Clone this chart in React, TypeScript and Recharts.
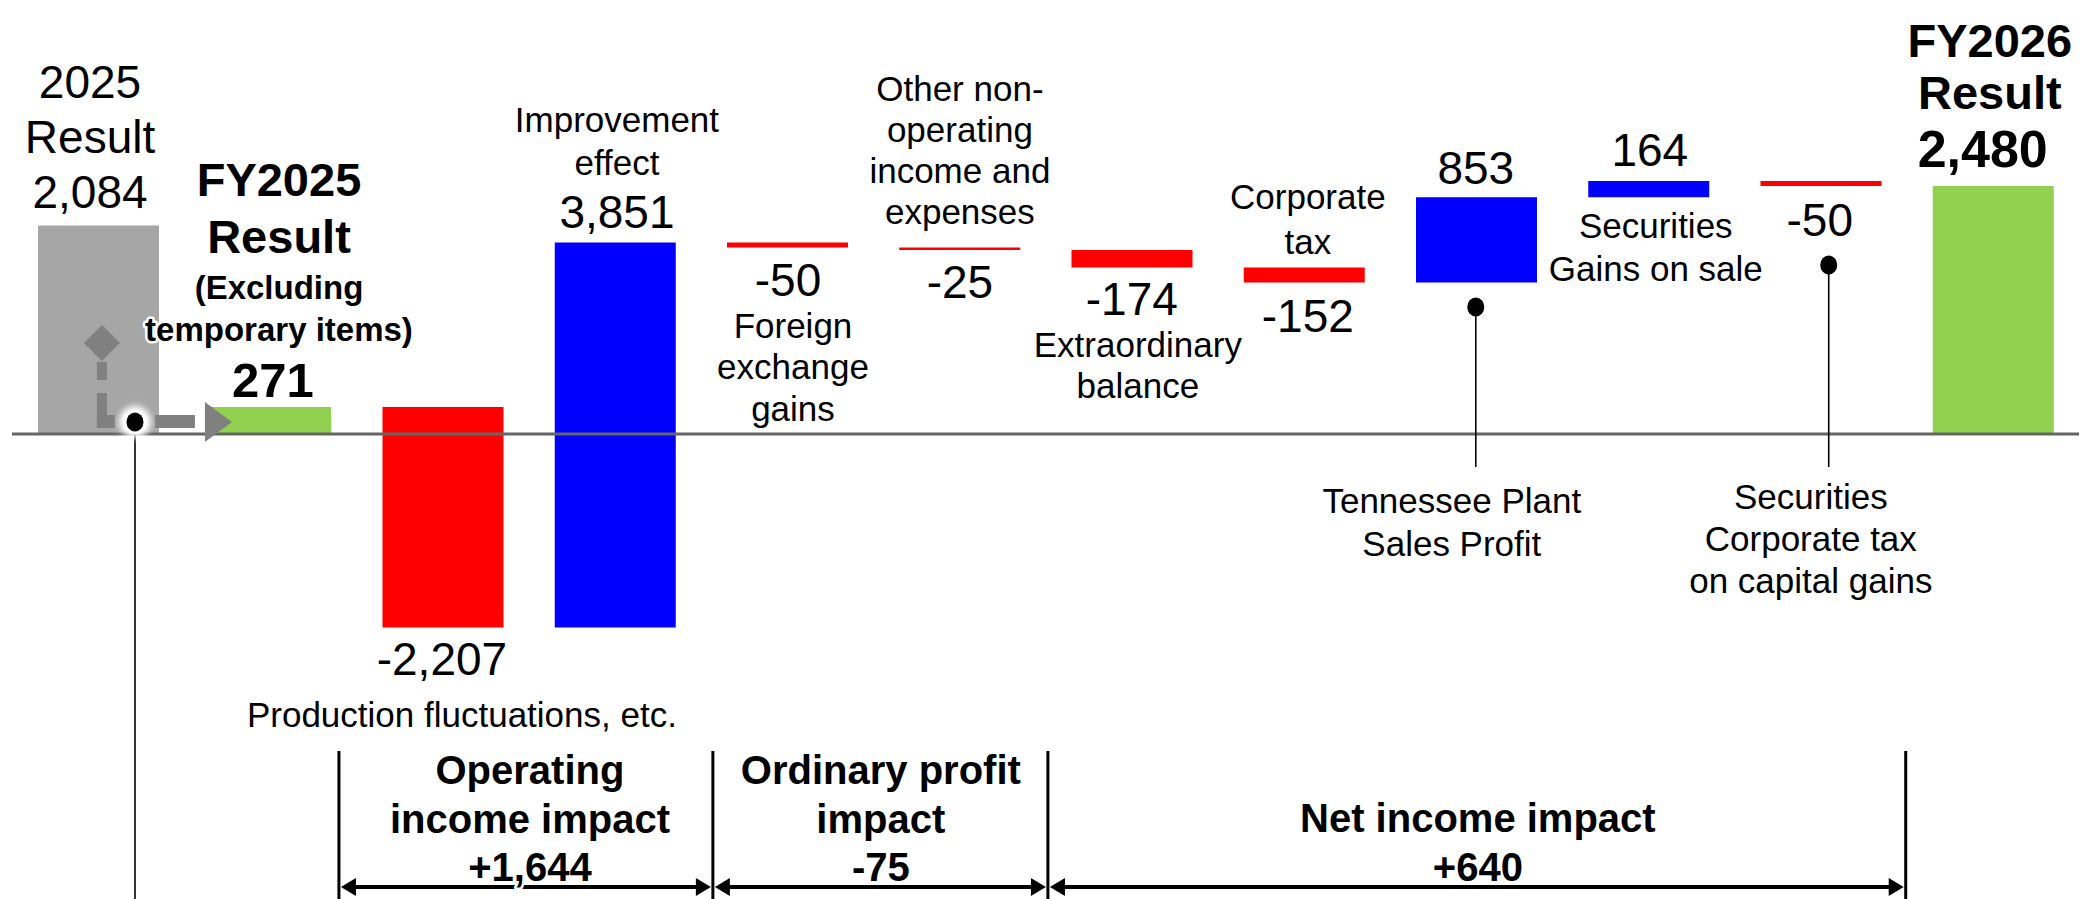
import React from 'react';
import { ComposedChart, Bar, Cell, XAxis, YAxis, ReferenceLine, ReferenceDot } from 'recharts';

// ---- data ----
const categories = [
  '2025 Result',
  'FY2025 Result (Excluding temporary items)',
  'Production fluctuations, etc.',
  'Improvement effect',
  'Foreign exchange gains',
  'Other non-operating income and expenses',
  'Extraordinary balance',
  'Corporate tax',
  'Tennessee Plant Sales Profit',
  'Securities Gains on sale',
  'Securities Corporate tax on capital gains',
  'FY2026 Result',
];
const values = [2084, 271, -2207, 3851, -50, -25, -174, -152, 853, 164, -50, 2480];
const barTypes = ['reference', 'start', 'delta', 'delta', 'delta', 'delta', 'delta', 'delta', 'delta', 'delta', 'delta', 'end'];
const valueLabels = ['2,084', '271', '-2,207', '3,851', '-50', '-25', '-174', '-152', '853', '164', '-50', '2,480'];
const impactNames = [['Operating', 'income impact'], ['Ordinary profit', 'impact'], ['Net income impact']];
const impactValues = ['+1,644', '-75', '+640'];

let running = 0;
const data = categories.map((name, i) => {
  const v = values[i];
  const t = barTypes[i];
  let range: number[];
  if (t === 'reference' || t === 'end') {
    range = [0, v];
  } else if (t === 'start') {
    range = [0, v];
    running = v;
  } else {
    const next = running + v;
    range = [Math.min(running, next), Math.max(running, next)];
    running = next;
  }
  return { name, idx: i, range, value: v, type: t };
});

const fillFor = (d: any) => {
  if (d.type === 'reference') return '#A6A6A6';
  if (d.type === 'start' || d.type === 'end') return '#92D050';
  return d.value < 0 ? '#FF0000' : '#0000FF';
};

const FONT = "'Liberation Sans', Arial, Helvetica, sans-serif";

type Block = { x: number; y: number; lines: string[]; size: number; bold?: boolean; gap?: number };

const annotations: Block[] = [
  { x: -0.047, y: 3520, lines: ['2025', 'Result', valueLabels[0]], size: 46, gap: 55 },
  { x: 1.05, y: 2550, lines: ['FY2025', 'Result'], size: 47, bold: true, gap: 57 },
  { x: 1.05, y: 1470, lines: ['(Excluding', 'temporary items)'], size: 33, bold: true, gap: 42 },
  { x: 1.015, y: 540, lines: [valueLabels[1]], size: 49, bold: true },
  { x: 3.012, y: 3150, lines: ['Improvement', 'effect'], size: 35, gap: 43 },
  { x: 3.012, y: 2220, lines: [valueLabels[3]], size: 46 },
  { x: 4.005, y: 1540, lines: [valueLabels[4]], size: 46 },
  { x: 4.034, y: 1090, lines: ['Foreign', 'exchange', 'gains'], size: 35, gap: 41.5 },
  { x: 5.003, y: 3460, lines: ['Other non-', 'operating', 'income and', 'expenses'], size: 35, gap: 41.3 },
  { x: 5.003, y: 1520, lines: [valueLabels[5]], size: 46 },
  { x: 6.001, y: 1350, lines: [valueLabels[6]], size: 46 },
  { x: 6.036, y: 900, lines: ['Extraordinary', 'balance'], size: 35, gap: 41 },
  { x: 7.023, y: 2380, lines: ['Corporate', 'tax'], size: 35, gap: 45 },
  { x: 7.023, y: 1180, lines: [valueLabels[7]], size: 46 },
  { x: 7.998, y: 2660, lines: [valueLabels[8]], size: 46 },
  { x: 7.859, y: -660, lines: ['Tennessee Plant', 'Sales Profit'], size: 35, gap: 43 },
  { x: 9.008, y: 2840, lines: [valueLabels[9]], size: 46 },
  { x: 9.043, y: 2090, lines: ['Securities', 'Gains on sale'], size: 35, gap: 43 },
  { x: 9.995, y: 2140, lines: [valueLabels[10]], size: 46 },
  { x: 9.943, y: -620, lines: ['Securities', 'Corporate tax', 'on capital gains'], size: 35, gap: 42 },
  { x: 10.982, y: 3940, lines: ['FY2026', 'Result'], size: 47, bold: true, gap: 52 },
  { x: 10.941, y: 2850, lines: [valueLabels[11]], size: 52, bold: true },
  { x: 1.996, y: -2250, lines: [valueLabels[2]], size: 46 },
  { x: 2.112, y: -2800, lines: ['Production fluctuations, etc.'], size: 35 },
  { x: 2.507, y: -3360, lines: [...impactNames[0], impactValues[0]], size: 40, bold: true, gap: 48.5 },
  { x: 4.544, y: -3360, lines: [...impactNames[1], impactValues[1]], size: 40, bold: true, gap: 48.5 },
  { x: 8.01, y: -3840, lines: [...impactNames[2], impactValues[2]], size: 40, bold: true, gap: 49 },
];

const bracketXs = [1.398, 3.569, 5.514, 10.494];
const BRACKET_TOP = -3170;
const BRACKET_BOTTOM = -4650;
const ARROW_Y = -4530;

const connectors = [
  { x: 0.214, y: 120, bottom: -4650, glow: true },
  { x: 7.998, y: 1270, bottom: -330, glow: false },
  { x: 10.047, y: 1690, bottom: -330, glow: false },
];

const TextBlock = ({ cx, cy, b }: { cx: number; cy: number; b: Block }) => (
  <g>
    {b.lines.map((l, k) => (
      <text
        key={k}
        x={cx}
        y={cy + k * (b.gap || 0)}
        textAnchor="middle"
        dominantBaseline="central"
        fontSize={b.size}
        fontWeight={b.bold ? 700 : 400}
        fontFamily={FONT}
        fill="#000"
        stroke="#fff"
        strokeWidth={5}
        strokeLinejoin="round"
        paintOrder="stroke"
      >
        {l}
      </text>
    ))}
  </g>
);

const DoubleArrow = (p: any) => {
  const { x1, y1, x2 } = p;
  const a = Math.min(x1, x2);
  const b = Math.max(x1, x2);
  return (
    <g>
      <line x1={a + 10} y1={y1} x2={b - 10} y2={y1} stroke="#000" strokeWidth={4} />
      <polygon points={`${a + 2},${y1} ${a + 17},${y1 - 9} ${a + 17},${y1 + 9}`} fill="#000" />
      <polygon points={`${b - 2},${y1} ${b - 17},${y1 - 9} ${b - 17},${y1 + 9}`} fill="#000" />
    </g>
  );
};

const GrayArrow = ({ cx, cy }: { cx: number; cy: number }) => (
  <g fill="#808080">
    <rect x={cx - 5} y={cy - 28} width={10} height={34} />
    <rect x={cx - 5} y={cy - 6} width={18} height={13} />
    <rect x={cx - 5} y={cy - 59} width={10} height={18} />
    <polygon points={`${cx},${cy - 96} ${cx + 18},${cy - 78} ${cx},${cy - 60} ${cx - 18},${cy - 78}`} />
    <rect x={cx + 53} y={cy - 6} width={40} height={13} />
    <polygon points={`${cx + 103},${cy - 19} ${cx + 130},${cy + 1} ${cx + 103},${cy + 21}`} />
  </g>
);

const Dot = ({ cx, cy, glow }: { cx: number; cy: number; glow: boolean }) => (
  <g>
    {glow && (
      <>
        <defs>
          <filter id="glowBlur" x="-1" y="-1" width="3" height="3">
            <feGaussianBlur stdDeviation="3" />
          </filter>
        </defs>
        <circle cx={cx} cy={cy} r={16} fill="#fff" filter="url(#glowBlur)" />
        <circle cx={cx} cy={cy} r={12} fill="#fff" />
      </>
    )}
    <ellipse cx={cx} cy={cy} rx={8.5} ry={9.5} fill="#000" />
  </g>
);

export default function App() {
  return (
    <div style={{ position: 'absolute', left: 0, top: 0, width: 2080, height: 899, background: '#fff' }}>
      <ComposedChart width={2080} height={899} data={data} margin={{ top: 0, right: 1, bottom: 0, left: 12 }}>
        <XAxis xAxisId="cat" dataKey="name" type="category" hide />
        <XAxis xAxisId="pos" dataKey="idx" type="number" domain={[-0.5, 11.5]} hide allowDataOverflow />
        <YAxis type="number" domain={[-4650, 4340]} hide allowDataOverflow />
        <Bar xAxisId="cat" dataKey="range" barSize={121} isAnimationActive={false}>
          {data.map((d, i) => (
            <Cell key={i} fill={fillFor(d)} />
          ))}
        </Bar>
        <ReferenceLine xAxisId="pos" y={0} stroke="#666" strokeWidth={3} ifOverflow="visible" />
        <ReferenceDot
          xAxisId="pos"
          x={0.022}
          y={130}
          r={0}
          ifOverflow="visible"
          shape={(p: any) => <GrayArrow cx={p.cx} cy={p.cy} />}
        />
        {connectors.map((c, i) => (
          <ReferenceLine
            key={'cl' + i}
            xAxisId="pos"
            segment={[{ x: c.x, y: c.y }, { x: c.x, y: c.bottom }]}
            stroke="#000"
            strokeWidth={1.6}
            ifOverflow="visible"
          />
        ))}
        {connectors.map((c, i) => (
          <ReferenceDot
            key={'cd' + i}
            xAxisId="pos"
            x={c.x}
            y={c.y}
            r={0}
            ifOverflow="visible"
            shape={(p: any) => <Dot cx={p.cx} cy={p.cy} glow={c.glow} />}
          />
        ))}
        {bracketXs.map((bx, i) => (
          <ReferenceLine
            key={'bv' + i}
            xAxisId="pos"
            segment={[{ x: bx, y: BRACKET_TOP }, { x: bx, y: BRACKET_BOTTOM }]}
            stroke="#000"
            strokeWidth={3}
            ifOverflow="visible"
          />
        ))}
        {bracketXs.slice(0, -1).map((bx, i) => (
          <ReferenceLine
            key={'ba' + i}
            xAxisId="pos"
            segment={[{ x: bx, y: ARROW_Y }, { x: bracketXs[i + 1], y: ARROW_Y }]}
            ifOverflow="visible"
            shape={DoubleArrow}
          />
        ))}
        {annotations.map((b, i) => (
          <ReferenceDot
            key={'t' + i}
            xAxisId="pos"
            x={b.x}
            y={b.y}
            r={0}
            ifOverflow="visible"
            shape={(p: any) => <TextBlock cx={p.cx} cy={p.cy} b={b} />}
          />
        ))}
      </ComposedChart>
    </div>
  );
}
